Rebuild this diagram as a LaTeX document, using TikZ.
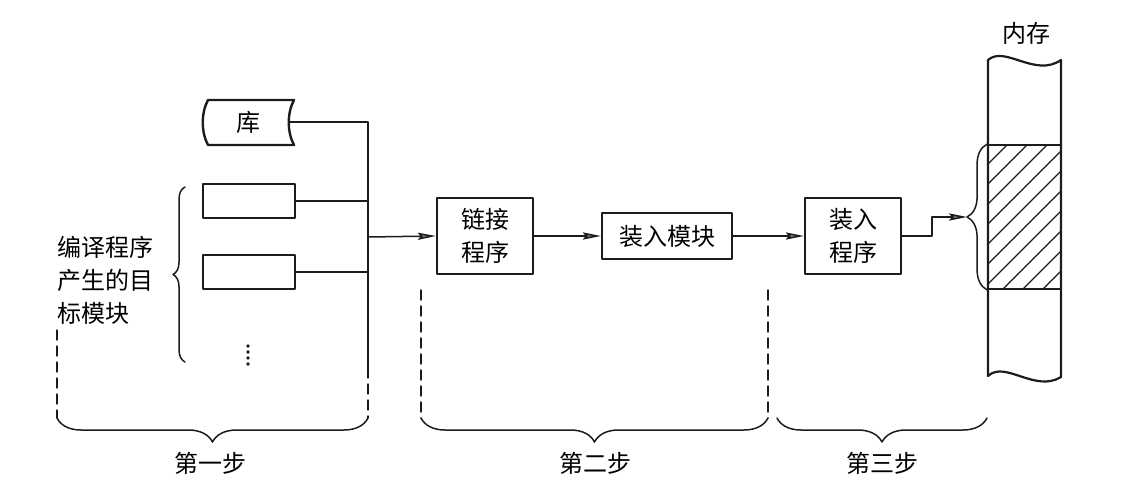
\documentclass[tikz,border=0pt]{standalone}
\usepackage{fontspec}
\setmainfont{Noto Sans CJK SC}
\usetikzlibrary{arrows.meta,decorations.pathreplacing}
\definecolor{flowink}{HTML}{1C1C1C}
\definecolor{flowtip}{HTML}{7A7A7A}
\tikzset{
  flow box/.style={draw=flowink, line width=1.2pt, inner sep=0pt, align=center},
  flow wire/.style={flowink, line width=0.75pt},
  flow arrow/.style={flow wire, -{Stealth[length=9pt,width=3.6pt,inset=1.5pt,fill=flowtip]}},
  step guide/.style={flowink, line width=0.7pt, dash pattern=on 5pt off 3pt},
  side brace/.style={flowink, line width=0.75pt, decorate, decoration={brace, amplitude=#1}},
  low brace/.style={flowink, line width=0.75pt, decorate, decoration={brace, mirror, amplitude=#1}},
}

\begin{document}
\begin{tikzpicture}[x=0.5pt, y=-0.5pt, line cap=round, line join=round,
    font=\fontsize{12pt}{16.5pt}\selectfont]
  \useasboundingbox (0,0) rectangle (1121,494);

  % step one: library and object modules
  \draw[flowink, line width=1.2pt]
    (208,100) -- (294,100) .. controls (287,113) and (287,132) .. (294,145)
    -- (208,145) .. controls (201,132) and (201,113) .. (208,100) -- cycle;
  \node (lib) at (248,122) [minimum width=41pt, minimum height=22pt, inner sep=0pt] {库};
  \node[flow box, minimum width=46pt, minimum height=17pt] (objA) at (249,201) {};
  \node[flow box, minimum width=46pt, minimum height=17pt] (objB) at (249,272) {};
  \foreach \y in {346,352,358,364}
    \fill[flowink] (248,\y) circle (0.9pt);
  \draw[side brace=6pt] (185,362) -- (185,187);
  \node[anchor=west, align=left] (objtext) at (50,280) {编译程序\\产生的目\\标模块};

  \coordinate (bus) at (368,237);
  \coordinate (busend) at (368,368);
  \draw[flow wire] (lib.east) -- (lib.east -| bus) -- (busend);
  \draw[flow wire] (objA.east) -- (objA.east -| bus);
  \draw[flow wire] (objB.east) -- (objB.east -| bus);

  % step two and three
  \node[flow box, minimum width=48pt, minimum height=38pt] (link) at (485,236) {链接\\程序};
  \node[flow box, minimum width=65pt, minimum height=23pt] (loadmod) at (667,236) {装入模块};
  \node[flow box, minimum width=48pt, minimum height=38pt] (loader) at (853,236) {装入\\程序};
  \draw[flow arrow] (bus) -- (link.west);
  \draw[flow arrow] (link.east) -- (loadmod.west);
  \draw[flow arrow] (loadmod.east) -- (loader.west);

  % memory
  \draw[flowink, line width=1.1pt]
    (988,60) .. controls (1005,45) and (1035,78) .. (1061,60) -- (1061,377)
    .. controls (1035,393) and (1005,360) .. (988,376) -- cycle;
  \node[draw=flowink, line width=0.9pt, minimum width=36.5pt, minimum height=72pt, inner sep=0pt]
    (slot) at (1024.5,217) {};
  \begin{scope}
    \clip (slot.south west) rectangle (slot.north east);
    \foreach \x in {843,863,...,1043}
      \draw[flowink, line width=0.65pt] (\x,289) -- ++(144,-144);
  \end{scope}
  \node (memlabel) at (1026,33) {内存};
  \draw[side brace=10pt] (slot.south west) -- (slot.north west);
  \coordinate (memtip) at (967,217);
  \draw[flow arrow] (loader.east) -- ++(30,0) |- (memtip);

  % steps
  \draw[step guide] (57,330) -- (57,418);
  \draw[step guide] (busend) -- (368,418);
  \draw[step guide] (421,290) -- (421,418);
  \draw[step guide] (768,290) -- (768,418);
  \draw[low brace=12pt] (57,418) -- (368,418);
  \draw[low brace=12pt] (421,418) -- (768,418);
  \draw[low brace=12pt] (777,418) -- (987,418);
  \node (step1) at (210,463) {第一步};
  \node (step2) at (595,463) {第二步};
  \node (step3) at (882,463) {第三步};
\end{tikzpicture}
\end{document}
